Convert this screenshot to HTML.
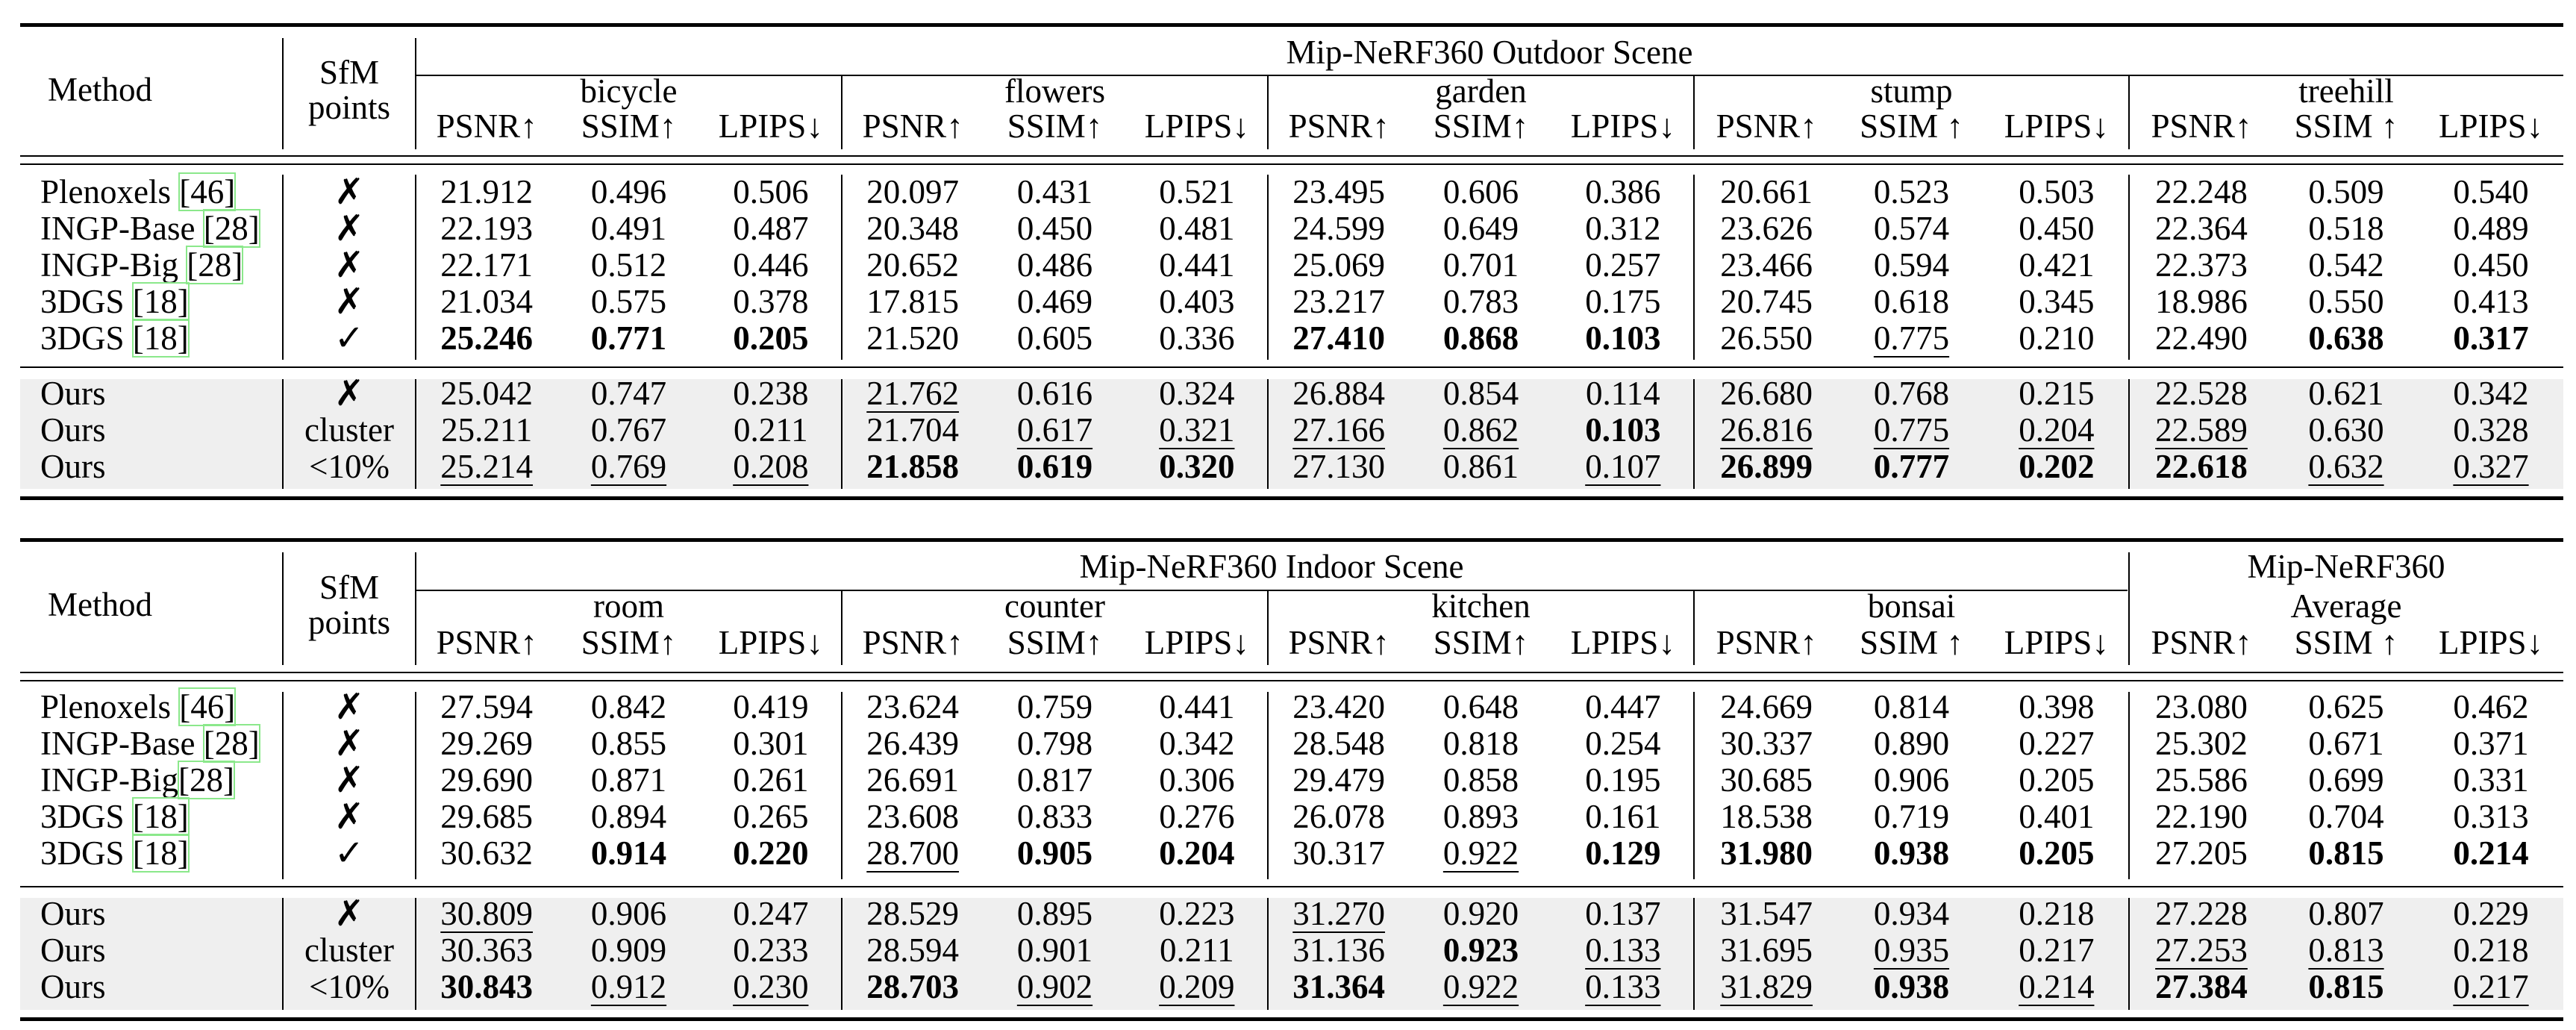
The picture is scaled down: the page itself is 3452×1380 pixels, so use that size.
<!DOCTYPE html>
<html><head><meta charset="utf-8">
<style>
html,body{margin:0;padding:0;background:#fff;}
#root{position:relative;width:3452px;height:1380px;overflow:hidden;font-family:"Liberation Serif","DejaVu Serif",serif;color:#000;}
.t{position:absolute;height:60px;line-height:60px;font-size:45px;white-space:nowrap;}
.c{text-align:center;}
.b{font-weight:bold;}
.u span{text-decoration:underline;text-decoration-thickness:2px;text-underline-offset:9px;}
.hl{position:absolute;background:#000;}
.gray{position:absolute;background:#efefef;}
.cite{outline:2px solid #8be88b;outline-offset:-1px;}
.mk{font-family:"DejaVu Sans",sans-serif;font-size:48px;font-weight:bold;}
</style></head>
<body>
<div id="root"></div>
<script>
const methods = ["Plenoxels|46","INGP-Base|28","INGP-Big|28","3DGS|18","3DGS|18","Ours|","Ours|","Ours|"];
const methods2 = ["Plenoxels|46","INGP-Base|28","INGP-Big|28","3DGS|18","3DGS|18","Ours|","Ours|","Ours|"];
const sfm = ["✗","✗","✗","✗","✓","✗","cluster","<10%"];
const groups1 = ["bicycle","flowers","garden","stump","treehill"];
const groups2 = ["room","counter","kitchen","bonsai","Average"];
const metrics1 = [["PSNR↑","SSIM↑","LPIPS↓"],["PSNR↑","SSIM↑","LPIPS↓"],["PSNR↑","SSIM↑","LPIPS↓"],["PSNR↑","SSIM ↑","LPIPS↓"],["PSNR↑","SSIM ↑","LPIPS↓"]];
const metrics2 = [["PSNR↑","SSIM↑","LPIPS↓"],["PSNR↑","SSIM↑","LPIPS↓"],["PSNR↑","SSIM↑","LPIPS↓"],["PSNR↑","SSIM ↑","LPIPS↓"],["PSNR↑","SSIM ↑","LPIPS↓"]];
// * = bold, _ = underline
const values1 = [
 ["21.912","0.496","0.506","20.097","0.431","0.521","23.495","0.606","0.386","20.661","0.523","0.503","22.248","0.509","0.540"],
 ["22.193","0.491","0.487","20.348","0.450","0.481","24.599","0.649","0.312","23.626","0.574","0.450","22.364","0.518","0.489"],
 ["22.171","0.512","0.446","20.652","0.486","0.441","25.069","0.701","0.257","23.466","0.594","0.421","22.373","0.542","0.450"],
 ["21.034","0.575","0.378","17.815","0.469","0.403","23.217","0.783","0.175","20.745","0.618","0.345","18.986","0.550","0.413"],
 ["*25.246","*0.771","*0.205","21.520","0.605","0.336","*27.410","*0.868","*0.103","26.550","_0.775","0.210","22.490","*0.638","*0.317"],
 ["25.042","0.747","0.238","_21.762","0.616","0.324","26.884","0.854","0.114","26.680","0.768","0.215","22.528","0.621","0.342"],
 ["25.211","0.767","0.211","21.704","_0.617","_0.321","_27.166","_0.862","*0.103","_26.816","_0.775","_0.204","_22.589","0.630","0.328"],
 ["_25.214","_0.769","_0.208","*21.858","*0.619","*0.320","27.130","0.861","_0.107","*26.899","*0.777","*0.202","*22.618","_0.632","_0.327"]
];
const values2 = [
 ["27.594","0.842","0.419","23.624","0.759","0.441","23.420","0.648","0.447","24.669","0.814","0.398","23.080","0.625","0.462"],
 ["29.269","0.855","0.301","26.439","0.798","0.342","28.548","0.818","0.254","30.337","0.890","0.227","25.302","0.671","0.371"],
 ["29.690","0.871","0.261","26.691","0.817","0.306","29.479","0.858","0.195","30.685","0.906","0.205","25.586","0.699","0.331"],
 ["29.685","0.894","0.265","23.608","0.833","0.276","26.078","0.893","0.161","18.538","0.719","0.401","22.190","0.704","0.313"],
 ["30.632","*0.914","*0.220","_28.700","*0.905","*0.204","30.317","_0.922","*0.129","*31.980","*0.938","*0.205","27.205","*0.815","*0.214"],
 ["_30.809","0.906","0.247","28.529","0.895","0.223","_31.270","0.920","0.137","31.547","0.934","0.218","27.228","0.807","0.229"],
 ["30.363","0.909","0.233","28.594","0.901","0.211","31.136","*0.923","_0.133","31.695","_0.935","0.217","_27.253","_0.813","0.218"],
 ["*30.843","_0.912","_0.230","*28.703","_0.902","_0.209","*31.364","_0.922","_0.133","_31.829","*0.938","_0.214","*27.384","*0.815","_0.217"]
];

const root = document.getElementById('root');
const L = 27, R = 3435;
const groupEdges = [557,1128,1699,2270,2853,3435];

function hline(x1,x2,y,h,name){
  const d=document.createElement('div');d.className='hl';
  
  
  d.style.left=x1+'px';d.style.width=(x2-x1)+'px';d.style.top=(y-h/2)+'px';d.style.height=h+'px';
  root.appendChild(d);
}
function vline(x,y1,y2,name){
  const d=document.createElement('div');d.className='hl';
  
  
  d.style.left=(x-0.75)+'px';d.style.width='1.5px';d.style.top=y1+'px';d.style.height=(y2-y1)+'px';
  root.appendChild(d);
}
function text(str,cx,cy,w,cls,name,left){
  const d=document.createElement('div');d.className='t '+(left?'':'c ')+(cls||'');
  
  
  d.style.left=(left?cx:(cx-w/2))+'px';if(!left)d.style.width=w+'px';d.style.top=(cy-30)+'px';
  d.innerHTML=str;root.appendChild(d);return d;
}
function cellText(v){
  let cls='';
  if(v[0]==='*'){cls='b';v=v.slice(1);}else if(v[0]==='_'){cls='u';v=v.slice(1);}
  return {cls, html:'<span>'+v+'</span>'};
}

function buildTable(o){
  const g=document.createElement('div');g.className='gray';
  
  
  g.style.left=L+'px';g.style.width=(R-L)+'px';g.style.top=o.grayTop+'px';g.style.height=(o.grayBot-o.grayTop)+'px';
  root.appendChild(g);
  hline(L,R,o.top,4.5,o.pre+'top-rule');
  hline(L,R,o.dbl1,2,o.pre+'header-rule-1');
  hline(L,R,o.dbl2,2,o.pre+'header-rule-2');
  hline(L,R,o.mid,2,o.pre+'mid-rule');
  hline(L,R,o.bot,5,o.pre+'bottom-rule');
  hline(557,o.cmidEnd,o.cmid,2,o.pre+'cmid-rule');
  vline(379,o.hvTop,o.hvBot,o.pre+'header-sep');
  vline(557,o.hvTop,o.hvBot,o.pre+'header-sep');
  for(let k=1;k<5;k++){
    const x=groupEdges[k];
    vline(x,(k===4&&o.avg)?o.hvTop:o.cmid,o.hvBot,o.pre+'header-sep');
  }
  [379,557,1128,1699,2270,2853].forEach(x=>{
    vline(x,o.bTop,o.bBot,o.pre+'body-sep');
    vline(x,o.grayTop,o.grayBot,o.pre+'ours-sep');
  });
  text('Method',134,o.methodY,300,'',o.pre+'method-header');
  text('SfM',468,o.sfmY,170,'',o.pre+'sfm-header');
  text('points',468,o.sfmY+47,170,'',o.pre+'sfm-header-points');
  text(o.title,(557+o.cmidEnd)/2,o.titleY,1500,'',o.pre+'title');
  if(o.avg){
    text('Mip-NeRF360',(2853+R)/2,o.titleY,500,'',o.pre+'average-title');
  }
  o.groups.forEach((gname,k)=>{
    const x1=groupEdges[k],x2=groupEdges[k+1],w=(x2-x1)/3;
    text(gname,(x1+x2)/2,o.groupY,400,'',o.pre+'group-'+gname.toLowerCase());
    o.metrics[k].forEach((m,j)=>{
      text(m,x1+w*(j+0.5),o.metricY,w,'',o.pre+'metric-header');
    });
  });
  o.rowsY.forEach((y,i)=>{
    const [nm,cite]=o.methods[i].split('|');
    const html = cite ? nm+(o.noSpace&&i===2?'':' ')+'<span class="cite">['+cite+']</span>' : nm;
    text(html,54,y,0,'',o.pre+'method-'+i,true);
    const s=sfm[i];
    text(s,468,y,170,(s.length===1?'mk':''),o.pre+'sfm-'+i);
    o.values[i].forEach((v,c)=>{
      const k=Math.floor(c/3),j=c%3;
      const x1=groupEdges[k],w=(groupEdges[k+1]-x1)/3;
      const ct=cellText(v);
      text(ct.html,x1+w*(j+0.5),y,w,ct.cls,o.pre+'cell-r'+i+'-c'+c);
    });
  });
}

buildTable({pre:'outdoor-',top:33.5,dbl1:208.5,dbl2:220,mid:492,bot:667,grayTop:507.5,grayBot:655,
  cmid:101,cmidEnd:R,hvTop:51,hvBot:200,bTop:234,bBot:482,
  methodY:120,sfmY:97,titleY:70,groupY:122,metricY:169,
  title:'Mip-NeRF360 Outdoor Scene',groups:groups1,metrics:metrics1,methods:methods,values:values1,
  rowsY:[257,306,355,404,453,527,576,625],avg:false,noSpace:false});

buildTable({pre:'indoor-',top:723.5,dbl1:901,dbl2:912,mid:1188,bot:1365,grayTop:1203,grayBot:1353,
  cmid:791,cmidEnd:2851,hvTop:740,hvBot:891,bTop:927,bBot:1178,
  methodY:810,sfmY:787,titleY:759,groupY:812,metricY:861,
  title:'Mip-NeRF360 Indoor Scene',groups:groups2,metrics:metrics2,methods:methods2,values:values2,
  rowsY:[947,996,1045,1094,1143,1224,1273,1322],avg:true,noSpace:true});
</script>
</body></html>
